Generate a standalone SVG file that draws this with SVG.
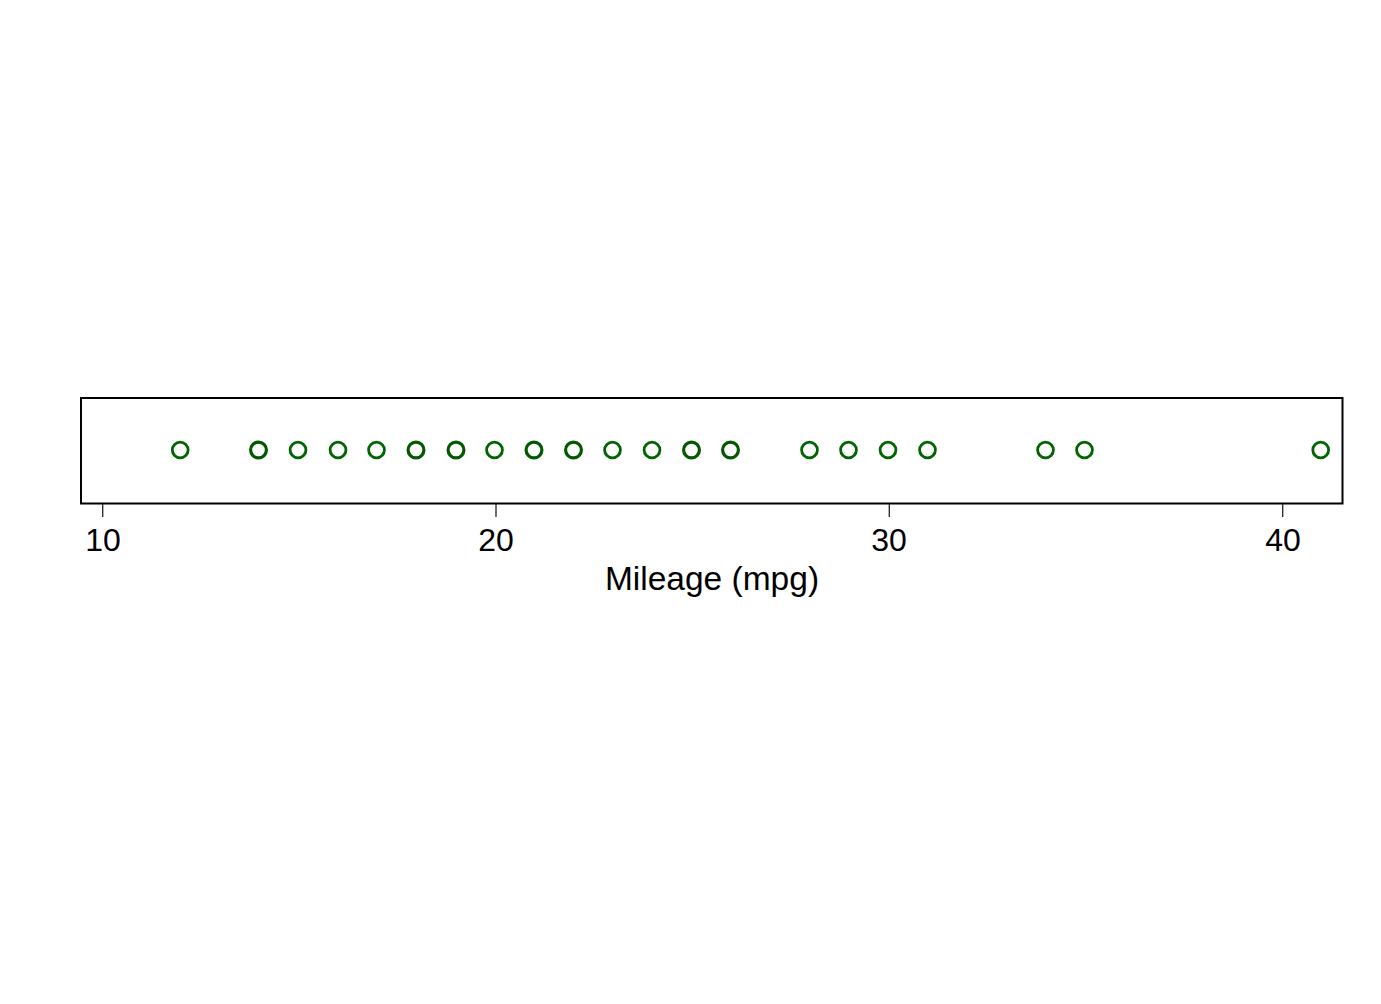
<svg xmlns="http://www.w3.org/2000/svg" width="1381" height="1004" viewBox="0 0 1381 1004">
<style>
.pt{fill:none;stroke:#006400;stroke-width:2.8}
.pt2{fill:none;stroke:#005800;stroke-width:3.2}
.tk{stroke:#222;stroke-width:1.3}
.lbl{font-family:"Liberation Sans",Arial,sans-serif;font-size:32px;fill:#000;text-anchor:middle}
</style>
<rect width="1381" height="1004" fill="#fff"/>
<g id="frame">
<rect x="81" y="398" width="1261.5" height="105.5" fill="none" stroke="#000" stroke-width="2"/>
</g>
<g id="axis">
<line class="tk" x1="102.7" y1="504" x2="102.7" y2="517"/>
<line class="tk" x1="496" y1="504" x2="496" y2="517"/>
<line class="tk" x1="889.3" y1="504" x2="889.3" y2="517"/>
<line class="tk" x1="1282.7" y1="504" x2="1282.7" y2="517"/>
<text class="lbl" x="103" y="551">10</text>
<text class="lbl" x="496" y="551">20</text>
<text class="lbl" x="889" y="551">30</text>
<text class="lbl" x="1283" y="551">40</text>
<text class="lbl" x="712" y="590" style="font-size:33.5px">Mileage (mpg)</text>
</g>
<g id="points">
<circle class="pt" cx="180.2" cy="450" r="7.9"/>
<circle class="pt2" cx="258.5" cy="450" r="7.9"/>
<circle class="pt" cx="298" cy="450" r="7.9"/>
<circle class="pt" cx="338" cy="450" r="7.9"/>
<circle class="pt" cx="376.5" cy="450" r="7.9"/>
<circle class="pt2" cx="416" cy="450" r="7.9"/>
<circle class="pt2" cx="456" cy="450" r="7.9"/>
<circle class="pt" cx="494.5" cy="450" r="7.9"/>
<circle class="pt2" cx="534" cy="450" r="7.9"/>
<circle class="pt2" cx="573.5" cy="450" r="7.9"/>
<circle class="pt" cx="612.5" cy="450" r="7.9"/>
<circle class="pt" cx="652" cy="450" r="7.9"/>
<circle class="pt2" cx="691.5" cy="450" r="7.9"/>
<circle class="pt2" cx="730.5" cy="450" r="7.9"/>
<circle class="pt" cx="809.5" cy="450" r="7.9"/>
<circle class="pt" cx="848.5" cy="450" r="7.9"/>
<circle class="pt" cx="888" cy="450" r="7.9"/>
<circle class="pt" cx="927.5" cy="450" r="7.9"/>
<circle class="pt" cx="1045.5" cy="450" r="7.9"/>
<circle class="pt" cx="1084.5" cy="450" r="7.9"/>
<circle class="pt" cx="1320.7" cy="450" r="7.9"/>
</g>
</svg>
